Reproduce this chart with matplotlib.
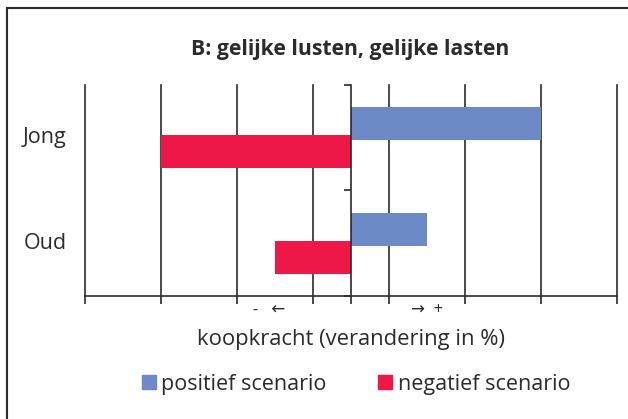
import matplotlib.pyplot as plt
from matplotlib.lines import Line2D
from matplotlib.patches import Patch
import matplotlib.transforms as mtransforms

# data
groepen = ['Jong', 'Oud']
positief = [2.5, 1.0]
negatief = [-2.5, -1.0]
rasters = [-3.5, -2.5, -1.5, -0.5, 0.5, 1.5, 2.5, 3.5]
richting = ['-   \u2190', '\u2192  +']

blauw = '#6B8AC6'
rood = '#EE1848'
tekst = '#2b2b2b'

plt.rcParams['font.family'] = ['Open Sans', 'DejaVu Sans']

fig = plt.figure(figsize=(6.28, 4.19), dpi=100)
ax = fig.add_axes([85 / 628, 123 / 419, 532 / 628, 211 / 419])

y = list(range(len(groepen)))
h = 0.31
ax.barh([v - 0.133 for v in y], positief, height=h, color=blauw, zorder=3)
ax.barh([v + 0.133 for v in y], negatief, height=h, color=rood, zorder=3)

for x in rasters:
    ax.axvline(x, color=tekst, lw=1.2, zorder=1, clip_on=False)

ax.set_xlim(-3.5, 3.5)
ax.set_ylim(1.5, -0.5)

for s in ['top', 'right']:
    ax.spines[s].set_visible(False)
ax.spines['left'].set_position(('data', 0))
ax.spines['left'].set_color(tekst)
ax.spines['left'].set_linewidth(1.2)
ax.spines['left'].set_zorder(4)
ax.spines['bottom'].set_color(tekst)
ax.spines['bottom'].set_linewidth(1.2)

ax.set_yticks([-0.5, 0.5, 1.5])
ax.set_yticklabels([])
ax.tick_params(axis='y', direction='out', length=5, width=1.2, color=tekst)

ax.set_xticks(rasters + [0])
ax.set_xticklabels([])
ax.tick_params(axis='x', which='major', direction='out', length=6, width=1.2, color=tekst)
ax.set_xticks([-1.08, 1.0], minor=True)
ax.set_xticklabels(richting, minor=True, fontsize=12, color=tekst)
ax.tick_params(axis='x', which='minor', length=0, pad=4)

trans = mtransforms.blended_transform_factory(ax.transAxes, ax.transData)
for i, g in enumerate(groepen):
    ax.text(-0.034, i, g, transform=trans, ha='right', va='center',
            fontsize=15.5, color=tekst)

fig.text(350 / 628, 1 - 50 / 419, 'B: gelijke lusten, gelijke lasten',
         ha='center', va='center', fontsize=15.2, fontweight='bold', color=tekst)
fig.text(351 / 628, 1 - 340 / 419, 'koopkracht (verandering in %)',
         ha='center', va='center', fontsize=15.8, color=tekst)

handles = [Patch(color=blauw, label='positief scenario'),
           Patch(color=rood, label='negatief scenario')]
fig.legend(handles=handles, loc='center', bbox_to_anchor=(356 / 628, 1 - 384 / 419),
           ncol=2, frameon=False, fontsize=15.5, handlelength=0.65, handleheight=0.65,
           handletextpad=0.25, columnspacing=2.4, labelcolor=tekst)

# rand linksboven
fig.add_artist(Line2D([7 / 628, 1], [1 - 8 / 419, 1 - 8 / 419], transform=fig.transFigure,
                      color=tekst, lw=1.5))
fig.add_artist(Line2D([7 / 628, 7 / 628], [0, 1 - 8 / 419], transform=fig.transFigure,
                      color=tekst, lw=1.5))

fig.savefig('out.png', dpi=100)
